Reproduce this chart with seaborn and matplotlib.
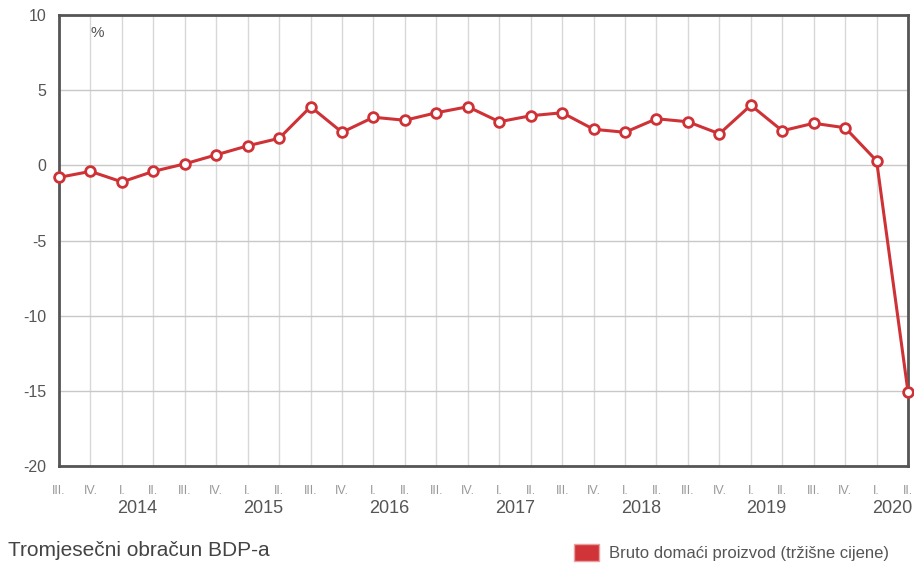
import matplotlib
matplotlib.use('Agg')
import matplotlib.pyplot as plt
from matplotlib.patches import Patch
import matplotlib.transforms as mtransforms
import seaborn as sns
import pandas as pd

# Quarterly GDP growth, 2013 Q3 - 2020 Q2 (%)
quarters = ['III.', 'IV.',
            'I.', 'II.', 'III.', 'IV.',
            'I.', 'II.', 'III.', 'IV.',
            'I.', 'II.', 'III.', 'IV.',
            'I.', 'II.', 'III.', 'IV.',
            'I.', 'II.', 'III.', 'IV.',
            'I.', 'II.', 'III.', 'IV.',
            'I.', 'II.']
gdp = [-0.8, -0.4, -1.1, -0.4, 0.1, 0.7, 1.3, 1.8, 3.9, 2.2,
       3.2, 3.0, 3.5, 3.9, 2.9, 3.3, 3.5, 2.4, 2.2, 3.1,
       2.9, 2.1, 4.0, 2.3, 2.8, 2.5, 0.3, -15.1]
years = ['2014', '2015', '2016', '2017', '2018', '2019', '2020']
year_pos = [2.5, 6.5, 10.5, 14.5, 18.5, 22.5, 26.5]

df = pd.DataFrame({'idx': range(len(gdp)), 'value': gdp})

sns.set_theme(style='white')
plt.rcParams['font.family'] = ['Liberation Sans', 'DejaVu Sans']
plt.rcParams['axes.unicode_minus'] = False

red = '#cf3236'
fig = plt.figure(figsize=(9.14, 5.65), dpi=100)
ax = fig.add_axes([0.0646, 0.1752, 0.9289, 0.7982])

ax.set_xlim(0, len(gdp) - 1)
ax.set_ylim(-20, 10)
ax.set_yticks([-20, -15, -10, -5, 0, 5, 10])
ax.set_xticks(range(len(gdp)))
ax.set_xticklabels(quarters)

ax.grid(axis='x', color='#d8d8d8', linewidth=1)
ax.grid(axis='y', color='#c8c8c8', linewidth=1)
ax.set_axisbelow(True)

sns.lineplot(data=df, x='idx', y='value', ax=ax, color=red, linewidth=2.2,
             marker='o', markersize=7, markerfacecolor='white',
             markeredgecolor=red, markeredgewidth=2, clip_on=False, zorder=5)

ax.set_xlabel('')
ax.set_ylabel('')
for sp in ax.spines.values():
    sp.set_color('#555555')
    sp.set_linewidth(2)

ax.tick_params(axis='x', length=0, pad=14, labelsize=9, labelcolor='#999999')
ax.tick_params(axis='y', length=0, pad=9, labelsize=11.5, labelcolor='#555555')

trans = mtransforms.blended_transform_factory(ax.transData, ax.transAxes)
for yr, xp in zip(years, year_pos):
    ax.text(xp, -0.095, yr, transform=trans, ha='center', va='center',
            fontsize=13, color='#555555')

ax.text(1.2, 8.8, '%', ha='center', va='center', fontsize=11, color='#555555')

fig.text(0.009, 0.008, 'Tromjesečni obračun BDP-a', fontsize=15,
         color='#444444', ha='left', va='bottom')

handle = Patch(facecolor='#d13438', edgecolor='#e8a0a0')
fig.legend([handle], ['Bruto domaći proizvod (tržišne cijene)'],
           loc='lower left', bbox_to_anchor=(0.612, -0.02), frameon=False,
           fontsize=12, labelcolor='#555555', handlelength=1.5,
           handleheight=1.2, handletextpad=0.6)

fig.savefig('out.png', dpi=100)
